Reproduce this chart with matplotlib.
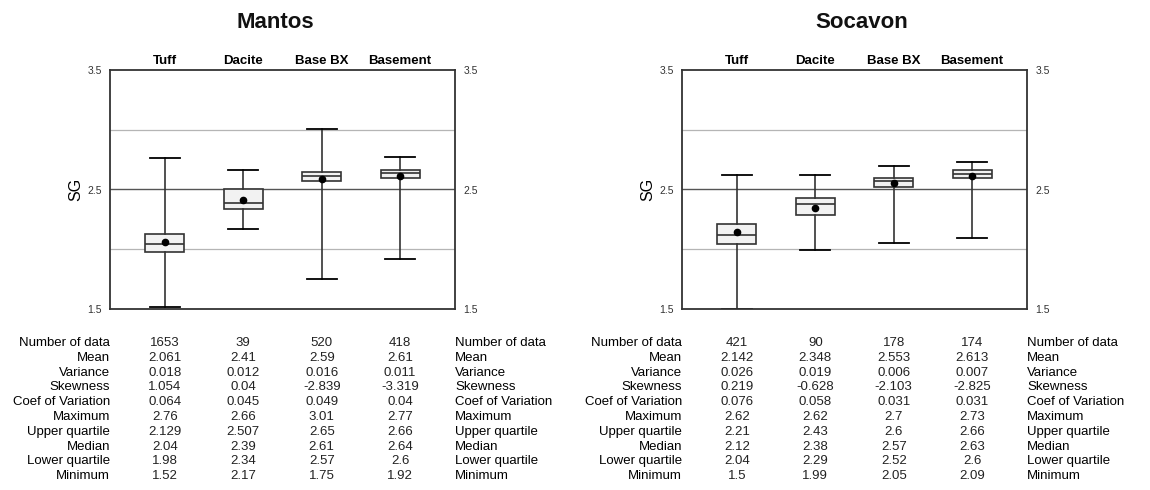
import matplotlib
matplotlib.use("Agg")
import matplotlib.pyplot as plt
import matplotlib.transforms as mtransforms

plt.rcParams['font.family'] = ['Liberation Sans', 'DejaVu Sans']

# Data
categories = ["Tuff", "Dacite", "Base BX", "Basement"]
row_labels = ["Number of data", "Mean", "Variance", "Skewness", "Coef of Variation",
              "Maximum", "Upper quartile", "Median", "Lower quartile", "Minimum"]

mantos_n = [1653, 39, 520, 418]
mantos_mean = [2.061, 2.41, 2.59, 2.61]
mantos_var = [0.018, 0.012, 0.016, 0.011]
mantos_skew = [1.054, 0.04, -2.839, -3.319]
mantos_cv = [0.064, 0.045, 0.049, 0.04]
mantos_max = [2.76, 2.66, 3.01, 2.77]
mantos_q3 = [2.129, 2.507, 2.65, 2.66]
mantos_med = [2.04, 2.39, 2.61, 2.64]
mantos_q1 = [1.98, 2.34, 2.57, 2.6]
mantos_min = [1.52, 2.17, 1.75, 1.92]

socavon_n = [421, 90, 178, 174]
socavon_mean = [2.142, 2.348, 2.553, 2.613]
socavon_var = [0.026, 0.019, 0.006, 0.007]
socavon_skew = [0.219, -0.628, -2.103, -2.825]
socavon_cv = [0.076, 0.058, 0.031, 0.031]
socavon_max = [2.62, 2.62, 2.7, 2.73]
socavon_q3 = [2.21, 2.43, 2.6, 2.66]
socavon_med = [2.12, 2.38, 2.57, 2.63]
socavon_q1 = [2.04, 2.29, 2.52, 2.6]
socavon_min = [1.5, 1.99, 2.05, 2.09]

y_ticks = [1.5, 2.5, 3.5]
light_grid = [2.0, 3.0]
dark_grid = [2.5]

panels = [
    ("Mantos", [mantos_n, mantos_mean, mantos_var, mantos_skew, mantos_cv,
                mantos_max, mantos_q3, mantos_med, mantos_q1, mantos_min]),
    ("Socavon", [socavon_n, socavon_mean, socavon_var, socavon_skew, socavon_cv,
                 socavon_max, socavon_q3, socavon_med, socavon_q1, socavon_min]),
]

W, H = 1150, 490
fig = plt.figure(figsize=(W / 100, H / 100), dpi=100)

axes_lefts = [110, 682]
title_x = [275, 862]
ax_w, ax_top, ax_bot = 345, 70, 309
row_y0, row_step = 343, 14.8
positions = [1, 2, 3, 4]
line_c = "#333333"

for (name, rows), left, tx in zip(panels, axes_lefts, title_x):
    ax = fig.add_axes([left / W, 1 - ax_bot / H, ax_w / W, (ax_bot - ax_top) / H])
    n, mean, var, skew, cv, mx, q3, med, q1, mn = rows

    stats = []
    for i in range(len(categories)):
        stats.append(dict(med=med[i], q1=q1[i], q3=q3[i], whislo=mn[i],
                          whishi=mx[i], mean=mean[i], fliers=[], label=categories[i]))

    for g in light_grid:
        ax.axhline(g, color="#b5b5b5", lw=0.9, zorder=0)
    for g in dark_grid:
        ax.axhline(g, color="#555555", lw=1.0, zorder=0)

    ax.bxp(stats, positions=positions, widths=0.5, capwidths=0.38,
           showmeans=True, patch_artist=True, showfliers=False,
           boxprops=dict(facecolor="#f2f2f2", edgecolor=line_c, lw=1.2),
           medianprops=dict(color=line_c, lw=1.2),
           whiskerprops=dict(color=line_c, lw=1.2),
           capprops=dict(color="black", lw=1.3),
           meanprops=dict(marker="o", markerfacecolor="black",
                          markeredgecolor="black", markersize=4.5))

    ax.set_xlim(0.3, 4.7)
    ax.set_ylim(1.5, 3.5)
    ax.set_yticks(y_ticks)
    ax.set_yticklabels([str(t) for t in y_ticks])
    ax.tick_params(axis="y", length=0, labelsize=7.5, labelcolor=line_c,
                   labelright=True, pad=6)
    ax.set_xticks(positions)
    ax.set_xticklabels(categories, fontweight="bold", fontsize=9.5)
    ax.tick_params(axis="x", length=0, top=False, bottom=False,
                   labeltop=True, labelbottom=False, pad=2.5)
    ax.set_ylabel("SG", fontsize=11.5, labelpad=3)
    for s in ax.spines.values():
        s.set_color(line_c)
        s.set_linewidth(1.3)

    fig.text(tx / W, 1 - 28 / H, name, fontsize=16, fontweight="bold",
             ha="center", va="baseline", color="#111111")

    # statistics table below the plot
    tr_ax = mtransforms.blended_transform_factory(ax.transAxes, fig.transFigure)
    tr_data = mtransforms.blended_transform_factory(ax.transData, fig.transFigure)
    for r, (label, vals) in enumerate(zip(row_labels, rows)):
        y = 1 - (row_y0 + r * row_step) / H
        ax.text(0, y, label, transform=tr_ax, ha="right", va="center",
                fontsize=9.5, clip_on=False)
        ax.text(1, y, label, transform=tr_ax, ha="left", va="center",
                fontsize=9.5, clip_on=False)
        for p, v in zip(positions, vals):
            ax.text(p, y, str(v), transform=tr_data, ha="center", va="center",
                    fontsize=9.5, clip_on=False, color="#222222")

fig.savefig("out.png", dpi=100)
